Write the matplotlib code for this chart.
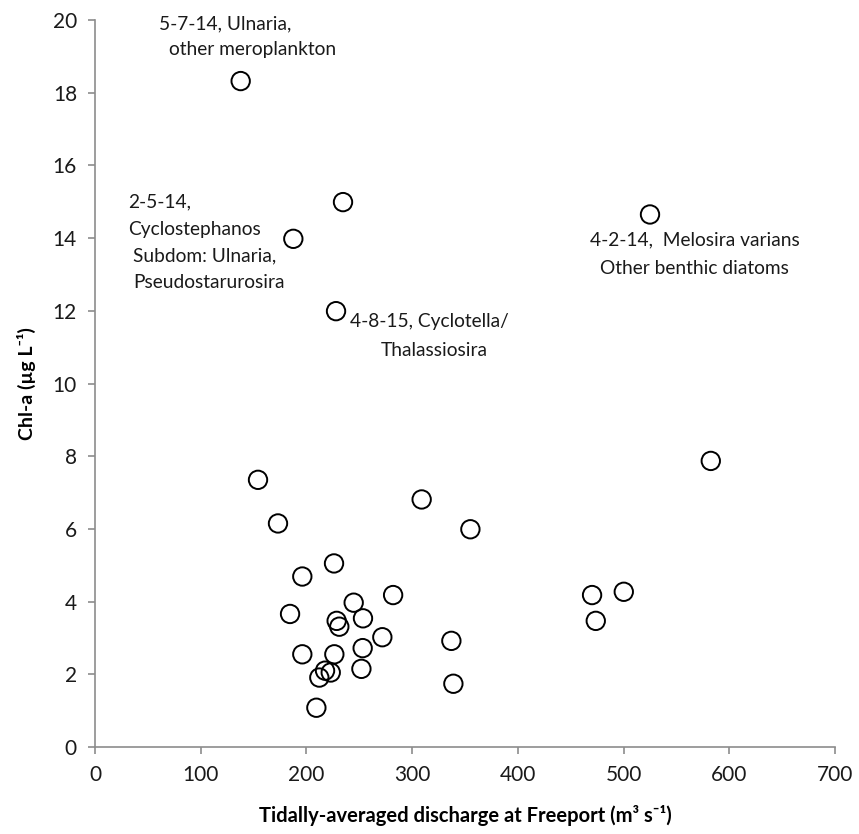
import matplotlib
matplotlib.use('Agg')
import matplotlib.pyplot as plt

plt.rcParams['font.family'] = ['Lato', 'DejaVu Sans']

# discharge (m3/s) and chl-a (ug/L)
discharge = [137.8, 234.6, 187.6, 228.0, 525.0, 582.5, 154.2, 309.0, 173.1, 355.1,
             226.1, 196.1, 282.0, 244.7, 184.5, 228.6, 253.5, 231.1, 271.8, 337.1,
             196.1, 226.4, 253.2, 252.0, 217.6, 223.0, 212.2, 339.0, 209.4, 470.2,
             500.2, 473.7]
chla = [18.32, 14.99, 13.98, 11.99, 14.65, 7.87, 7.35, 6.81, 6.15, 5.99,
        5.05, 4.69, 4.18, 3.97, 3.66, 3.47, 3.54, 3.31, 3.02, 2.92,
        2.55, 2.55, 2.72, 2.15, 2.10, 2.05, 1.91, 1.74, 1.08, 4.18,
        4.27, 3.47]

x_ticks = [0, 100, 200, 300, 400, 500, 600, 700]
y_ticks = [0, 2, 4, 6, 8, 10, 12, 14, 16, 18, 20]

# annotation lines: (text, x, y)
notes = [
    ('5-7-14, Ulnaria,', 60.5, 19.89),
    ('other meroplankton', 70, 19.2),
    ('2-5-14,', 31, 15.0),
    ('Cyclostephanos', 31, 14.24),
    ('Subdom: Ulnaria,', 36.3, 13.51),
    ('Pseudostarurosira', 36.3, 12.77),
    ('4-8-15, Cyclotella/', 241.2, 11.70),
    ('Thalassiosira', 270.6, 10.92),
    ('4-2-14,  Melosira varians', 468.3, 13.95),
    ('Other benthic diatoms', 477.8, 13.17),
]

fig = plt.figure(figsize=(8.59, 8.34), dpi=100)
ax = fig.add_axes([95 / 859, 1 - 747 / 834, 740 / 859, 727 / 834])

ax.scatter(discharge, chla, s=175, facecolors='none', edgecolors='black',
           linewidths=1.4, zorder=3)

for txt, x, y in notes:
    ax.text(x, y, txt, fontsize=13.8, va='center', ha='left', color='#1a1a1a')

ax.set_xlim(0, 700)
ax.set_ylim(0, 20)
ax.set_xticks(x_ticks)
ax.set_yticks(y_ticks)

for side in ['top', 'right']:
    ax.spines[side].set_visible(False)
for side in ['left', 'bottom']:
    ax.spines[side].set_color('#8c8c8c')
    ax.spines[side].set_linewidth(1.2)
ax.tick_params(axis='both', colors='#8c8c8c', length=5, width=1.2,
               labelcolor='#1a1a1a', labelsize=15, pad=8)

ax.set_xlabel('Tidally-averaged discharge at Freeport (m\u00b3 s\u207b\u00b9)',
              fontsize=14.5, fontweight='bold', labelpad=14)
ax.set_ylabel('Chl-a (µg L\u207b\u00b9)', fontsize=14, fontweight='bold', labelpad=12)

fig.savefig('out.png', dpi=100)
